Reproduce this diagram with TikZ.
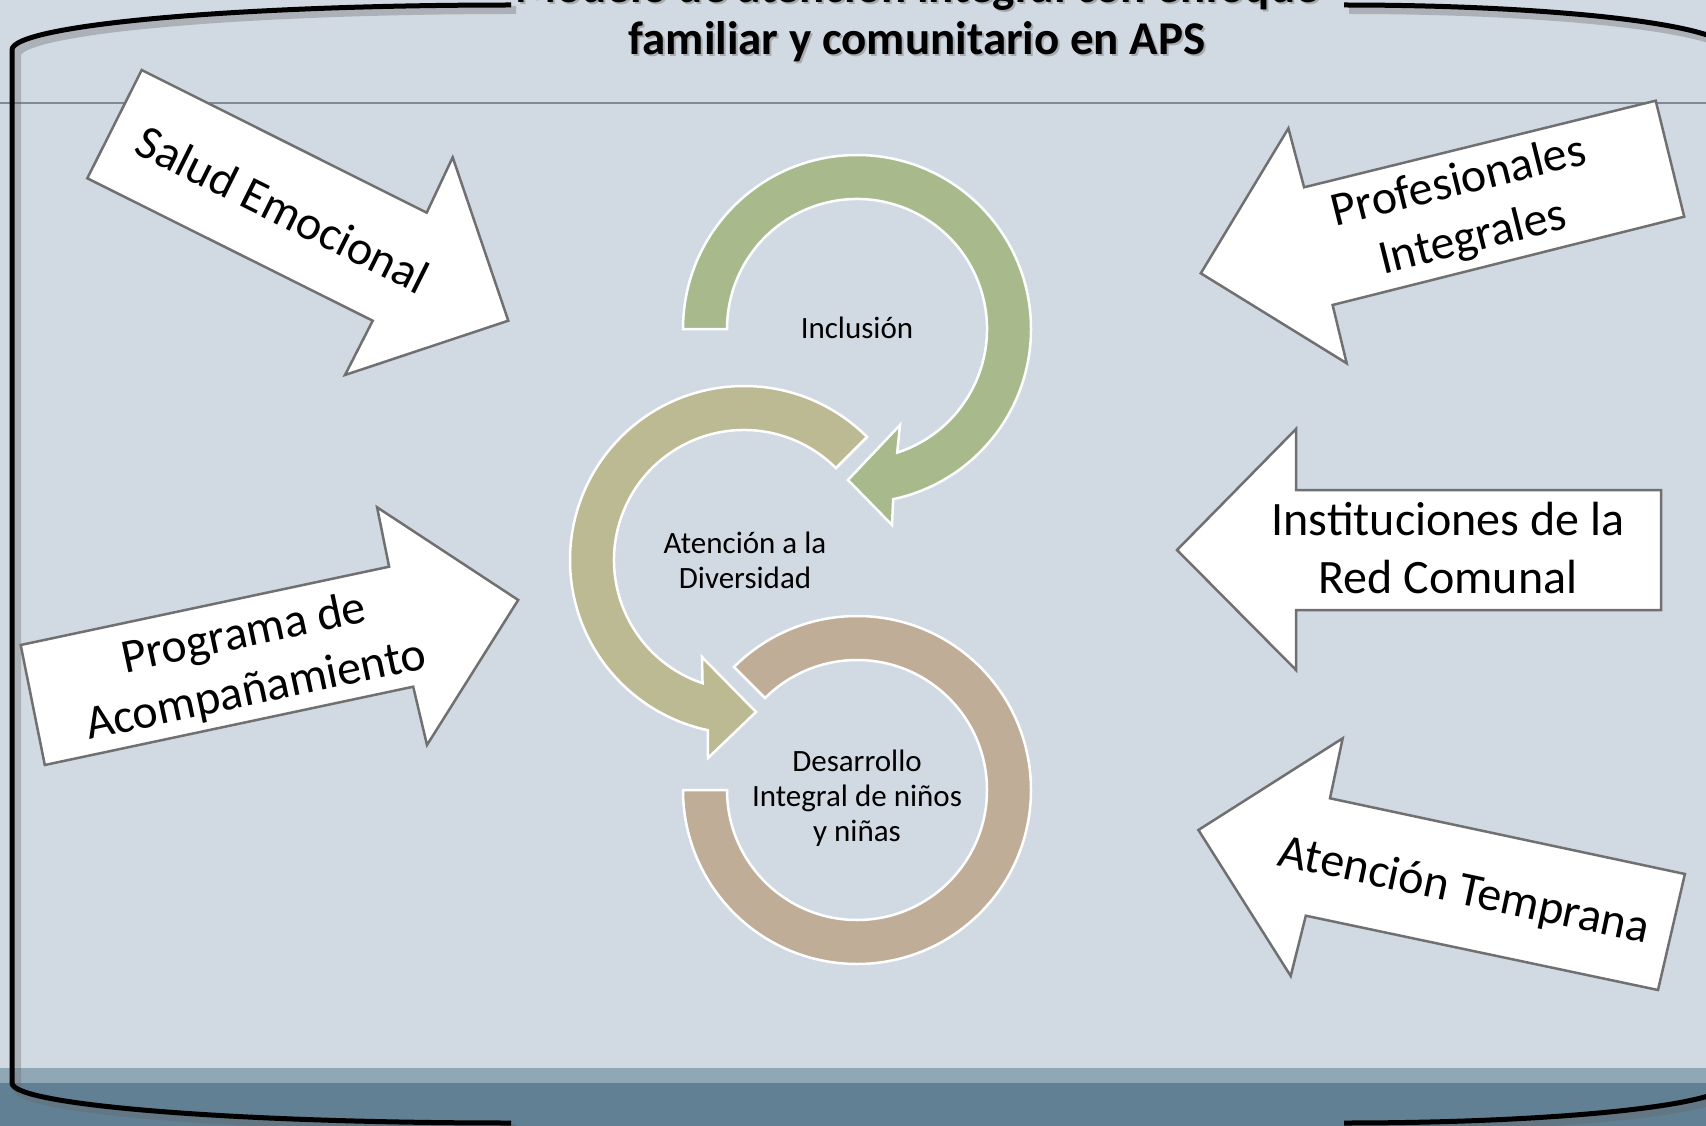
\documentclass[tikz,border=0pt]{standalone}
\usepackage{fontspec}
\setmainfont{Carlito}
\definecolor{bgc}{RGB}{209,218,226}
\definecolor{bandA}{RGB}{144,167,182}
\definecolor{bandB}{RGB}{97,128,148}
\definecolor{hlinec}{RGB}{128,138,148}
\definecolor{arrowedge}{RGB}{112,112,112}
\definecolor{cgreen}{RGB}{168,185,140}
\definecolor{ckhaki}{RGB}{187,186,147}
\definecolor{ctan}{RGB}{191,173,151}
\begin{document}
\begin{tikzpicture}[x=1pt,y=-1pt,
  blockarrow/.style={fill=white, draw=arrowedge, line width=2.5pt, line join=miter},
  ring/.style={draw=white, line width=2.5pt, line join=miter},
  blocktext/.style={font=\fontsize{48}{58}\selectfont, align=center, inner sep=0pt},
  ringtext/.style={font=\fontsize{31}{35}\selectfont, align=center, inner sep=0pt},
  titletext/.style={font=\bfseries\fontsize{47}{54}\selectfont, inner sep=0pt},
  framepen/.style={line width=5pt, black},
  frameshadow/.style={line width=8pt, black!60, opacity=0.35}
]
\clip (0,0) rectangle (1706,1126);
% background
\fill[bgc] (0,0) rectangle (1706,1126);
\fill[bandA] (0,1068) rectangle (1706,1083);
\fill[bandB] (0,1083) rectangle (1706,1126);
\draw[hlinec, line width=1.5pt] (0,103) -- (1706,103);
% frame shadow
\begin{scope}[shift={(5,5)}]
\draw[frameshadow] (511,5) arc[start angle=-90, end angle=-180, x radius=499, y radius=45] -- (12,1083) arc[start angle=180, end angle=90, x radius=499, y radius=40];
\draw[frameshadow] (1344,5) arc[start angle=-90, end angle=0, x radius=385, y radius=45] -- (1729,1083) arc[start angle=0, end angle=90, x radius=385, y radius=40];
\end{scope}
% frame
\draw[framepen] (511,5) arc[start angle=-90, end angle=-180, x radius=499, y radius=45] -- (12,1083) arc[start angle=180, end angle=90, x radius=499, y radius=40];
\draw[framepen] (1344,5) arc[start angle=-90, end angle=0, x radius=385, y radius=45] -- (1729,1083) arc[start angle=0, end angle=90, x radius=385, y radius=40];
% title
\node[titletext, anchor=base, black!45, opacity=0.6] (title1s) at (919,5) {Modelo de atención integral con enfoque};
\node[titletext, anchor=base, black!45, opacity=0.6] (title2s) at (919,57) {familiar y comunitario en APS};
\node[titletext, anchor=base] (title1) at (917,3) {Modelo de atención integral con enfoque};
\node[titletext, anchor=base] (title2) at (917,55) {familiar y comunitario en APS};
% circular arrows
\draw[ring, fill=cgreen] (727,329) -- (683,329) arc[start angle=180, end angle=438, radius=174] -- (892,525) -- (848,480) -- (900,425) -- ([shift={(857,329)}]432:130) arc[start angle=432, end angle=180, radius=130] -- cycle;
\draw[ring, fill=ckhaki] ([shift={(744,560)}]-45:174) arc[start angle=-45, end angle=-258, radius=174] -- (708,758) -- (756,712) -- (702,657) -- ([shift={(744,560)}]-251.4:130) arc[start angle=-251.4, end angle=-45, radius=130] -- cycle;
\draw[ring, fill=ctan] ([shift={(857,790)}]-135:174) arc[start angle=-135, end angle=180, radius=174] -- ([shift={(857,790)}]180:130) arc[start angle=180, end angle=-135, radius=130] -- cycle;
\node[ringtext, anchor=base] (incl) at (857,338) {Inclusión};
\node[ringtext] (aten) at (745,560) {Atención a la\\Diversidad};
\node[ringtext] (desa) at (857,798) {Desarrollo\\Integral de niños\\y niñas};
% block arrows
\draw[blockarrow] (141.7,70) -- (426.7,212.7) -- (452.7,157.3) -- (508.3,320.7) -- (345,375) -- (372.7,320.7) -- (87.3,178.3) -- cycle;
\draw[blockarrow] (1655.7,100.7) -- (1304.1,187.3) -- (1288.4,128.3) -- (1200.8,273.3) -- (1346.7,363.3) -- (1332.6,305) -- (1684.2,216.7) -- cycle;
\draw[blockarrow] (20.7,645) -- (389.1,566.7) -- (377.1,507.3) -- (518.2,600) -- (427,745) -- (413.2,686.7) -- (44.8,765) -- cycle;
\draw[blockarrow] (1661,490) -- (1296,490) -- (1296,429) -- (1177,550) -- (1296,670) -- (1296,610) -- (1661,610) -- cycle;
\draw[blockarrow] (1684.9,874) -- (1330,798.3) -- (1342.7,738.3) -- (1198.4,830) -- (1290.7,976) -- (1305.8,915.7) -- (1658,990) -- cycle;
\node[blocktext, rotate=-26.5] (salud) at (283,209) {Salud Emocional};
\node[blocktext, rotate=14] (prof) at (1466,211) {Profesionales\\Integrales};
\node[blocktext, rotate=12] (prog) at (250,663) {Programa de\\Acompañamiento};
\node[blocktext] (inst) at (1448,548) {Instituciones de la\\Red Comunal};
\node[blocktext, rotate=-12] (temp) at (1464,892) {Atención Temprana};
\end{tikzpicture}
\end{document}
